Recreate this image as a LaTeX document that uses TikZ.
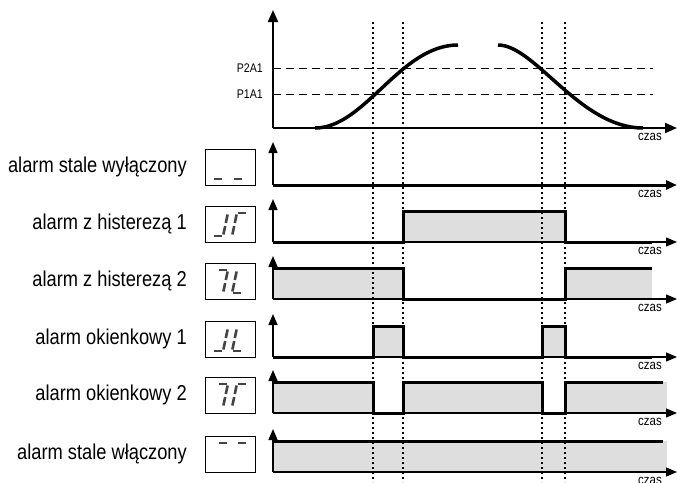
\documentclass[tikz,border=0pt]{standalone}
\usepackage{fontspec}
\setmainfont{Liberation Sans}[FakeStretch=0.85]
\usetikzlibrary{arrows.meta}
\definecolor{sig}{HTML}{DEDEDE}
\definecolor{segc}{HTML}{444444}
\newcommand\segA[2]{\draw[seg] (#1+6,#2-29) -- (#1+14,#2-29);}
\newcommand\segD[2]{\draw[seg] (#1+1,#2-6) -- (#1+9,#2-6);}
\newcommand\segB[2]{\draw[seg] (#1+12.8,#2-19) -- (#1+14.6,#2-27.5);}
\newcommand\segC[2]{\draw[seg] (#1+10.4,#2-7.5) -- (#1+12.2,#2-16);}
\newcommand\segE[2]{\draw[seg] (#1+0.4,#2-7.5) -- (#1+2.2,#2-16);}
\newcommand\segF[2]{\draw[seg] (#1+2.8,#2-19) -- (#1+4.6,#2-27.5);}
\begin{document}
\begin{tikzpicture}[x=1pt,y=-1pt,
  bigaxis/.style={line width=2pt,-{Triangle[length=12pt,width=10pt]}},
  rowaxis/.style={line width=1.4pt,-{Triangle[length=11pt,width=9pt]}},
  sigline/.style={line width=3pt,line join=miter},
  fillg/.style={fill=sig},
  lbl/.style={anchor=base east,font=\fontsize{21.5}{23}\selectfont,inner sep=0pt},
  czas/.style={anchor=base east,font=\fontsize{13.5}{13.5}\selectfont,inner sep=0pt},
  plbl/.style={anchor=base east,font=\fontsize{12.5}{12.5}\selectfont,inner sep=0pt},
  dispbox/.style={draw,line width=1pt},
  seg/.style={line width=2.6pt,draw=segc},
  thr/.style={line width=1pt,dash pattern=on 8pt off 5pt},
  vdot/.style={line width=1.2pt,dash pattern=on 2pt off 3pt},
  ]
\useasboundingbox (0,0) rectangle (677,482);

% ---------- top chart ----------
\draw[thr] (273,68) -- (653,68);
\draw[thr] (273,94) -- (653,94);
\node[plbl] (p2) at (263,72.5) {P2A1};
\node[plbl] (p1) at (263,98.5) {P1A1};
\draw[line width=3.5pt] (315,128) .. controls (365,128) and (400,45) .. (458,45);
\draw[line width=3.5pt] (498,45) .. controls (535,45) and (580,128) .. (643,128);
\draw[bigaxis] (273,128) -- (677,128);
\draw[bigaxis] (273,128) -- (273,10);
\node[czas] (cz0) at (662,140) {czas};

% ---------- fills ----------
\fill[fillg] (403,211) rectangle (565,242);
\fill[fillg] (273,268) rectangle (403,299);
\fill[fillg] (565,268) rectangle (652,299);
\fill[fillg] (373,326) rectangle (403,357);
\fill[fillg] (542,326) rectangle (565,357);
\fill[fillg] (273,382) rectangle (373,413);
\fill[fillg] (403,382) rectangle (542,413);
\fill[fillg] (565,382) rectangle (667,413);
\fill[fillg] (273,441) rectangle (667,472);

% ---------- dotted verticals ----------
\foreach \xx in {373,403,542,565} \draw[vdot] (\xx,22) -- (\xx,482);

% ---------- row axes ----------
\draw[line width=3pt,-{Triangle[length=11pt,width=9pt]}] (273,185) -- (677,185);
\foreach \bb in {242,299,357,413,472} \draw[rowaxis] (273,\bb) -- (677,\bb);
\foreach \bb in {185,242,299,357,413,472} \draw[rowaxis] (273,\bb) -- (273,\bb-43);

% ---------- signals ----------
\draw[sigline] (273,242) -- (403,242) -- (403,211) -- (565,211) -- (565,242) -- (652,242);
\draw[sigline] (273,268) -- (403,268) -- (403,299) -- (565,299) -- (565,268) -- (652,268);
\draw[sigline] (273,357) -- (373,357) -- (373,326) -- (403,326) -- (403,357) -- (542,357) -- (542,326) -- (565,326) -- (565,357) -- (652,357);
\draw[sigline] (273,382) -- (373,382) -- (373,413) -- (403,413) -- (403,382) -- (542,382) -- (542,413) -- (565,413) -- (565,382) -- (663,382);
\draw[sigline] (273,441) -- (663,441);

% ---------- czas labels ----------
\foreach \bb [count=\i] in {185,242,299,357,413,472} \node[czas] (cz\i) at (662,\bb+12) {czas};

% ---------- row labels ----------
\node[lbl] (l1) at (187,172) {alarm stale wyłączony};
\node[lbl] (l2) at (187,229) {alarm z histerezą 1};
\node[lbl] (l3) at (187,286) {alarm z histerezą 2};
\node[lbl] (l4) at (187,344) {alarm okienkowy 1};
\node[lbl] (l5) at (187,400) {alarm okienkowy 2};
\node[lbl] (l6) at (187,459) {alarm stale włączony};

% ---------- displays ----------
\foreach \bb in {185,242,299,357,413,472} \draw[dispbox] (205,\bb-36) rectangle (255,\bb);
% row 1: _ _
\segD{213}{185} \segD{233}{185}
% row 2
\segB{213}{242} \segC{213}{242} \segD{213}{242}
\segA{232}{242} \segE{232}{242} \segF{232}{242}
% row 3: 7 L
\segA{213}{299} \segB{213}{299} \segC{213}{299}
\segD{232}{299} \segE{232}{299} \segF{232}{299}
% row 4: J L
\segB{213}{357} \segC{213}{357} \segD{213}{357}
\segD{232}{357} \segE{232}{357} \segF{232}{357}
% row 5: 7 Gamma
\segA{213}{413} \segB{213}{413} \segC{213}{413}
\segA{232}{413} \segE{232}{413} \segF{232}{413}
% row 6
\segA{213}{472} \segA{232}{472}
\end{tikzpicture}
\end{document}
